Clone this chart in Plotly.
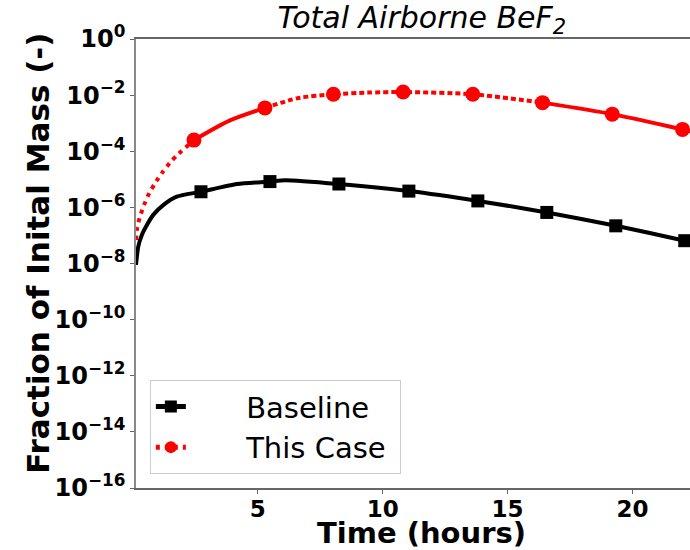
import plotly.graph_objects as go

# Time in hours and airborne fraction of initial BeF2 mass
baseline_t = [0.13, 0.22, 0.36, 0.56, 0.82, 1.22, 1.76, 2.73, 4.17, 5.49, 6.10,
              8.25, 11.05, 13.81, 16.57, 19.33, 22.09, 23.0]
baseline_v = [8.9e-9, 4.0e-8, 1.02e-7, 2.3e-7, 5.4e-7, 1.2e-6, 2.4e-6, 3.6e-6,
              6.8e-6, 8.3e-6, 9.3e-6, 6.8e-6, 3.8e-6, 1.7e-6, 6.6e-7, 2.2e-7,
              6.5e-8, 4.3e-8]
baseline_mark_t = [2.73, 5.49, 8.25, 11.05, 13.81, 16.57, 19.33, 22.09]
baseline_mark_v = [3.6e-6, 8.3e-6, 6.8e-6, 3.8e-6, 1.7e-6, 6.6e-7, 2.2e-7, 6.5e-8]

case_t = [0.13, 0.18, 0.29, 0.45, 0.66, 0.89, 1.18, 1.49, 1.82, 2.45, 3.87,
          5.29, 6.60, 8.03, 9.40, 10.82, 13.61, 16.40, 19.19, 22.0, 23.0]
case_v = [6.9e-8, 1.95e-7, 4.7e-7, 1.2e-6, 3.2e-6, 7.2e-6, 1.74e-5, 3.9e-5,
          7.9e-5, 2.5e-4, 1.23e-3, 3.5e-3, 7.8e-3, 1.07e-2, 1.23e-2, 1.29e-2,
          1.07e-2, 5.4e-3, 2.1e-3, 6.0e-4, 3.8e-4]
case_mark_t = [2.45, 5.29, 8.03, 10.82, 13.61, 16.40, 19.19, 22.0]
case_mark_v = [2.5e-4, 3.5e-3, 1.07e-2, 1.29e-2, 1.07e-2, 5.4e-3, 2.1e-3, 6.0e-4]

x_ticks = [5, 10, 15, 20]
y_exponents = [0, -2, -4, -6, -8, -10, -12, -14, -16]

FONT = "DejaVu Sans"
BLACK = "#000000"
RED = "#ff0000"
DOT = "4px,5px"
PAD = "&nbsp;" * 6


def window(ts, vs, lo, hi):
    """Points of a series with lo <= t <= hi."""
    pts = [(t, v) for t, v in zip(ts, vs) if lo <= t <= hi]
    return [p[0] for p in pts], [p[1] for p in pts]


fig = go.Figure()

# Baseline: solid black line with square markers
fig.add_trace(go.Scatter(x=baseline_t, y=baseline_v, mode="lines",
                         line=dict(color=BLACK, width=4, shape="spline", smoothing=0.7),
                         showlegend=False, hoverinfo="skip"))
fig.add_trace(go.Scatter(x=baseline_mark_t, y=baseline_mark_v, mode="markers",
                         marker=dict(symbol="square", size=13, color=BLACK),
                         showlegend=False))

# This case: red dotted line; the dot density varies along the curve
segments = [
    (case_t[0], case_mark_t[0], DOT),
    (case_mark_t[0], case_mark_t[1], "solid"),
    (case_mark_t[1], case_mark_t[5], "5px,3px"),
    (case_mark_t[5], case_t[-1], "solid"),
]
for lo, hi, dash in segments:
    sx, sy = window(case_t, case_v, lo, hi)
    fig.add_trace(go.Scatter(x=sx, y=sy, mode="lines",
                             line=dict(color=RED, width=4, dash=dash,
                                       shape="spline", smoothing=0.7),
                             showlegend=False, hoverinfo="skip"))
fig.add_trace(go.Scatter(x=case_mark_t, y=case_mark_v, mode="markers",
                         marker=dict(symbol="circle", size=15, color=RED),
                         showlegend=False))

# Legend entries combining line and marker styles
fig.add_trace(go.Scatter(x=[None], y=[None], mode="lines+markers",
                         name=PAD + "Baseline&nbsp;",
                         line=dict(color=BLACK, width=4),
                         marker=dict(symbol="square", size=13, color=BLACK),
                         legendgroup="a"))
fig.add_trace(go.Scatter(x=[None], y=[None], mode="lines+markers",
                         name=PAD + "This Case&nbsp;",
                         line=dict(color=RED, width=4, dash=DOT),
                         marker=dict(symbol="circle", size=15, color=RED),
                         legendgroup="b"))

tick_text = ["<b>10<sup>%s</sup></b>" % (str(e).replace("-", "\u2212")) for e in y_exponents]

fig.update_layout(
    width=690, height=550,
    margin=dict(l=136, r=0, t=39, b=62),
    paper_bgcolor="white", plot_bgcolor="white",
    font=dict(family=FONT, color="black"),
    title=dict(text="<i>Total Airborne BeF<sub>2</sub></i>",
               font=dict(family=FONT, size=30, color="black"),
               x=0.516, xref="paper", xanchor="center",
               y=1.0, yref="container", yanchor="top", pad=dict(t=7)),
    xaxis=dict(range=[0.13, 22.3], tickvals=x_ticks,
               ticktext=["<b>%d</b>" % v for v in x_ticks],
               tickfont=dict(family=FONT, size=23, color="black"),
               ticks="",
               minor=dict(ticks="outside", ticklen=4, tickcolor="#666666",
                          tick0=0, dtick=5),
               showline=True, linecolor="#666666", linewidth=1.5, mirror=True,
               showgrid=False, zeroline=False),
    yaxis=dict(type="log", range=[-16, 0],
               tickvals=[10.0 ** e for e in y_exponents], ticktext=tick_text,
               tickfont=dict(family=FONT, size=24, color="black"),
               ticks="outside", ticklen=4, tickcolor="#666666",
               showline=True, linecolor="#888888", linewidth=1.5,
               showgrid=False, zeroline=False),
    legend=dict(x=0.025, y=0.031, xanchor="left", yanchor="bottom",
                bgcolor="white", bordercolor="#cccccc", borderwidth=1,
                font=dict(family=FONT, size=29, color="black"),
                itemsizing="constant", tracegroupgap=0, traceorder="grouped"),
    annotations=[
        dict(text="<b>Time (hours)</b>", xref="paper", yref="paper",
             x=0.516, y=-0.1, xanchor="center", yanchor="middle",
             showarrow=False, font=dict(family=FONT, size=29, color="black")),
        dict(text="<b>Fraction of Inital Mass (-)</b>", xref="paper", yref="paper",
             x=-0.177, y=0.524, xanchor="center", yanchor="middle", textangle=-90,
             showarrow=False, font=dict(family=FONT, size=31, color="black")),
    ],
)

fig.write_html("out.html")
